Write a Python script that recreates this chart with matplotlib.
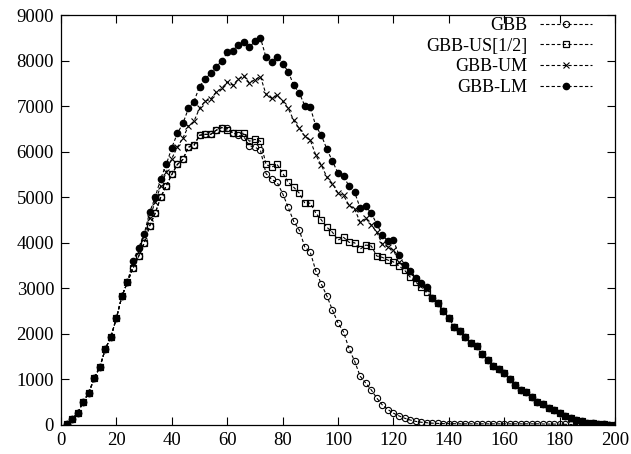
import matplotlib
matplotlib.use("Agg")
import matplotlib.pyplot as plt

plt.rcParams['font.family'] = ['Liberation Serif', 'DejaVu Serif']

x = list(range(2, 201, 2))

# shared start (x = 2 .. 24)
start = [20, 130, 260, 510, 700, 1030, 1270, 1670, 1930, 2350, 2830, 3140]

# shared tail (x = 134 .. 200)
tail = [2790, 2670, 2500, 2350, 2150, 2060, 1930, 1800, 1730, 1560,
        1430, 1290, 1230, 1150, 1000, 880, 770, 720, 610, 500,
        460, 370, 330, 260, 190, 150, 110, 90, 50, 40,
        25, 15, 10, 0]

# GBB-US[1/2], x = 26 .. 132
us_mid = [3440, 3700, 3990, 4370, 4650, 5000, 5250, 5500, 5720, 5830,
          6100, 6140, 6360, 6380, 6380, 6470, 6530, 6470, 6420, 6420,
          6400, 6230, 6270, 6230, 5720, 5660, 5720, 5530, 5330, 5220,
          5090, 4870, 4870, 4650, 4500, 4340, 4230, 4060, 4120, 4010,
          4000, 3860, 3950, 3930, 3710, 3680, 3620, 3580, 3490, 3400,
          3250, 3140, 3030, 2920]

# GBB, x = 60 .. 200 (same as US before)
gbb_tail = [6510, 6410, 6360, 6330, 6130, 6100, 6030, 5520, 5390, 5330,
            5080, 4780, 4470, 4280, 3910, 3790, 3380, 3090, 2830, 2520,
            2240, 2040, 1670, 1400, 1070, 920, 770, 590, 440, 340,
            260, 200, 150, 110, 80, 60, 50, 40, 35, 30,
            30, 28, 25, 25, 25, 25, 25, 25, 25, 25,
            25, 25, 25, 25, 25, 25, 25, 22, 20, 20,
            18, 15, 12, 10, 8, 6, 5, 4, 3, 2,
            0]

# GBB-UM, x = 26 .. 132
um_mid = [3550, 3830, 4150, 4550, 4900, 5250, 5550, 5850, 6100, 6300,
          6560, 6670, 6950, 7110, 7150, 7310, 7390, 7530, 7460, 7590,
          7660, 7510, 7580, 7650, 7260, 7170, 7240, 7110, 6950, 6690,
          6510, 6340, 6250, 5920, 5700, 5440, 5300, 5090, 5040, 4820,
          4740, 4450, 4540, 4390, 4230, 3970, 3910, 3840, 3570, 3480,
          3350, 3200, 3080, 2980]

# GBB-LM, x = 26 .. 132
lm_mid = [3600, 3880, 4190, 4670, 5000, 5410, 5720, 6090, 6400, 6620,
          6950, 7100, 7430, 7590, 7720, 7870, 7980, 8180, 8220, 8350,
          8400, 8300, 8420, 8500, 8070, 7960, 8080, 7930, 7760, 7460,
          7290, 7010, 6970, 6560, 6360, 6050, 5790, 5530, 5460, 5240,
          5110, 4760, 4800, 4650, 4410, 4170, 4040, 4060, 3730, 3520,
          3390, 3220, 3110, 3020]

us = start + us_mid + tail
um = start + um_mid + tail
lm = start + lm_mid + tail
gbb = us[:29] + gbb_tail

fig = plt.figure(figsize=(6.31, 4.54), dpi=100)
ax = fig.add_axes([0.0967, 0.0639, 0.878, 0.903])

style = dict(color='black', linestyle='--', linewidth=0.8, dashes=(3, 2))
ax.plot(x, gbb, marker='o', markersize=4.5, markerfacecolor='none',
        markeredgewidth=0.8, label='GBB', **style)
ax.plot(x, us, marker='s', markersize=5, markerfacecolor='none',
        markeredgewidth=0.9, label='GBB-US[1/2]', **style)
ax.plot(x, um, marker='x', markersize=5, markeredgewidth=0.8,
        label='GBB-UM', **style)
ax.plot(x, lm, marker='o', markersize=4.5, markerfacecolor='black',
        label='GBB-LM', **style)

ax.set_xlim(0, 200)
ax.set_ylim(0, 9000)
ax.set_xticks(range(0, 201, 20))
ax.set_yticks(range(0, 9001, 1000))
ax.tick_params(direction='in', top=True, right=True, length=6,
               labelsize=13.5, pad=5)
for s in ax.spines.values():
    s.set_linewidth(0.9)

ax.legend(loc='upper right', bbox_to_anchor=(1 - 23 / 554, 1 - 2 / 410),
          frameon=False, markerfirst=False, handlelength=2.9, fontsize=13,
          labelspacing=0.2, handletextpad=0.7, borderaxespad=0, borderpad=0)

fig.savefig('out.png', dpi=100)
